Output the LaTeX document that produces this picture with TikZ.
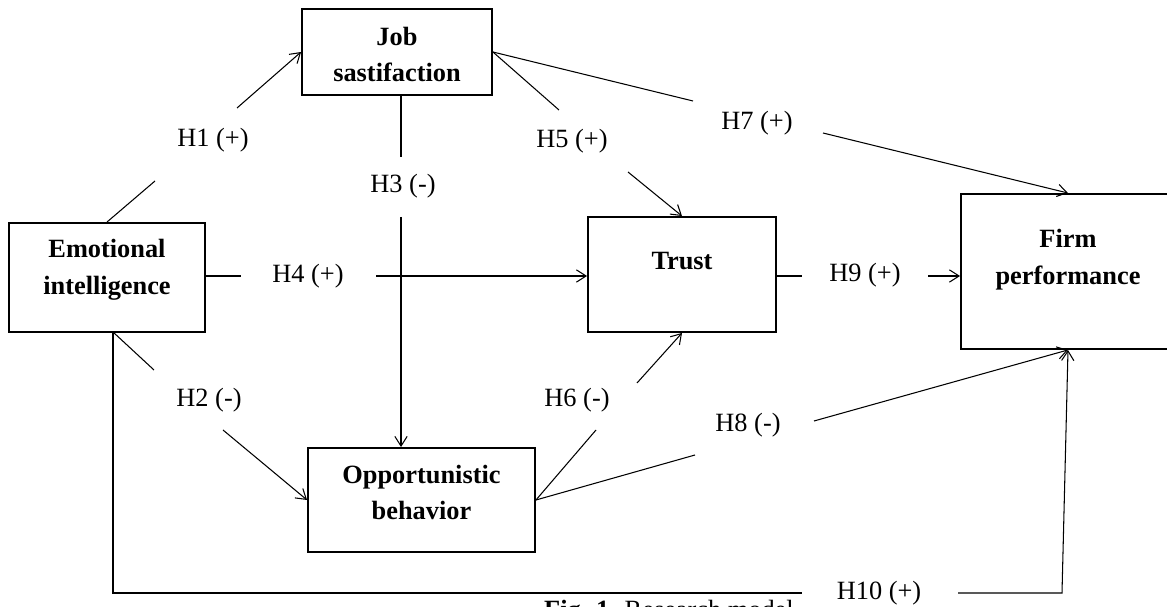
\documentclass[tikz,border=0pt]{standalone}
\usepackage{fontspec}
\setmainfont{Liberation Serif}
\usetikzlibrary{arrows.meta, calc}

\begin{document}
\begin{tikzpicture}[x=0.02cm, y=-0.02cm,
        font=\fontsize{15}{21}\selectfont,
        factor/.style={draw, line width=1.1pt, inner sep=0pt},
        factortext/.style={font=\fontsize{15}{21}\selectfont\bfseries, align=center},
        hyp/.style={anchor=base},
        conn/.style={line width=0.6pt},
        >={Straight Barb[length=5.5pt, width=7pt]}]

        \useasboundingbox (0,0) rectangle (1167,607);

        % Constructs (boxes)
        \node[factor, minimum width=3.8cm, minimum height=1.72cm] (job) at (397,52) {};
        \node[factortext] (jobtxt) at (397,54.5) {Job\\sastifaction};
        \node[factor, minimum width=3.92cm, minimum height=2.18cm] (emo) at (107,277.5) {};
        \node[factortext] (emotxt) at (107,269.5) {Emotional\\intelligence};
        \node[factor, minimum width=3.76cm, minimum height=2.3cm] (trust) at (682,274.5) {};
        \node[factortext, anchor=base] (trusttxt) at (682,270) {Trust};
        \node[factor, minimum width=4.28cm, minimum height=3.1cm] (firm) at (1068,271.5) {};
        \node[factortext] (firmtxt) at (1068,260) {Firm\\performance};
        \node[factor, minimum width=4.54cm, minimum height=2.08cm] (opp) at (421.5,500) {};
        \node[factortext] (opptxt) at (421.5,492.5) {Opportunistic\\behavior};

        % Hypothesis labels
        \node[hyp] (h1) at (213,147) {H1 (+)};
        \node[hyp] (h2) at (209,407) {H2 (-)};
        \node[hyp] (h3) at (403,193) {H3 (-)};
        \node[hyp] (h4) at (308,283) {H4 (+)};
        \node[hyp] (h5) at (572,148) {H5 (+)};
        \node[hyp] (h6) at (577,407) {H6 (-)};
        \node[hyp] (h7) at (757,130) {H7 (+)};
        \node[hyp] (h8) at (748,432) {H8 (-)};
        \node[hyp] (h9) at (865,282) {H9 (+)};
        \node[hyp] (h10) at (879,600) {H10 (+)};

        % Free ends of the split connectors
        \coordinate (h1a) at (155,181);  \coordinate (h1b) at (237,108);
        \coordinate (h2o) at (113,332);
        \coordinate (h2a) at (154,370);  \coordinate (h2b) at (223,430);
        \coordinate (h3a) at (401,157);  \coordinate (h3b) at (401,217);
        \coordinate (h4a) at (241,276);  \coordinate (h4b) at (376,276);
        \coordinate (h5a) at (559,110);  \coordinate (h5b) at (628,172);
        \coordinate (h6a) at (596,430);  \coordinate (h6b) at (637,383);
        \coordinate (h7a) at (693,101);  \coordinate (h7b) at (823,133);
        \coordinate (h8a) at (695,455);  \coordinate (h8b) at (814,421);
        \coordinate (h9a) at (802,276);  \coordinate (h9b) at (928,276);
        \coordinate (h10c) at (113,593);
        \coordinate (h10a) at (802,593); \coordinate (h10b) at (958,593);
        \coordinate (h10d) at (1062,593);

        % Connectors
        \draw[conn] (emo.north) -- (h1a);
        \draw[conn, ->] (h1b) -- (job.west);
        \draw[conn] (h2o) -- (h2a);
        \draw[conn, ->] (h2b) -- (opp.west);
        \draw[conn] (h3a |- job.south) -- (h3a);
        \draw[conn, ->] (h3b) -- (h3b |- opp.north);
        \draw[conn] (h4a -| emo.east) -- (h4a);
        \draw[conn, ->] (h4b) -- (h4b -| trust.west);
        \draw[conn] (job.east) -- (h5a);
        \draw[conn, ->] (h5b) -- (trust.north);
        \draw[conn] (opp.east) -- (h6a);
        \draw[conn, ->] (h6b) -- (trust.south);
        \draw[conn] (job.east) -- (h7a);
        \draw[conn, ->] (h7b) -- (firm.north);
        \draw[conn] (opp.east) -- (h8a);
        \draw[conn, ->] (h8b) -- (firm.south);
        \draw[conn] (h9a -| trust.east) -- (h9a);
        \draw[conn, ->] (h9b) -- (h9b -| firm.west);
        \draw[conn] (h2o) -- (h10c) -- (h10a);
        \draw[conn, ->] (h10b) -- (h10d) -- (firm.south);

        % Caption (cut by the bottom edge)
        \node[anchor=base west] (caption) at (538,619) {\textbf{Fig. 1.} Research model};
\end{tikzpicture}
\end{document}
